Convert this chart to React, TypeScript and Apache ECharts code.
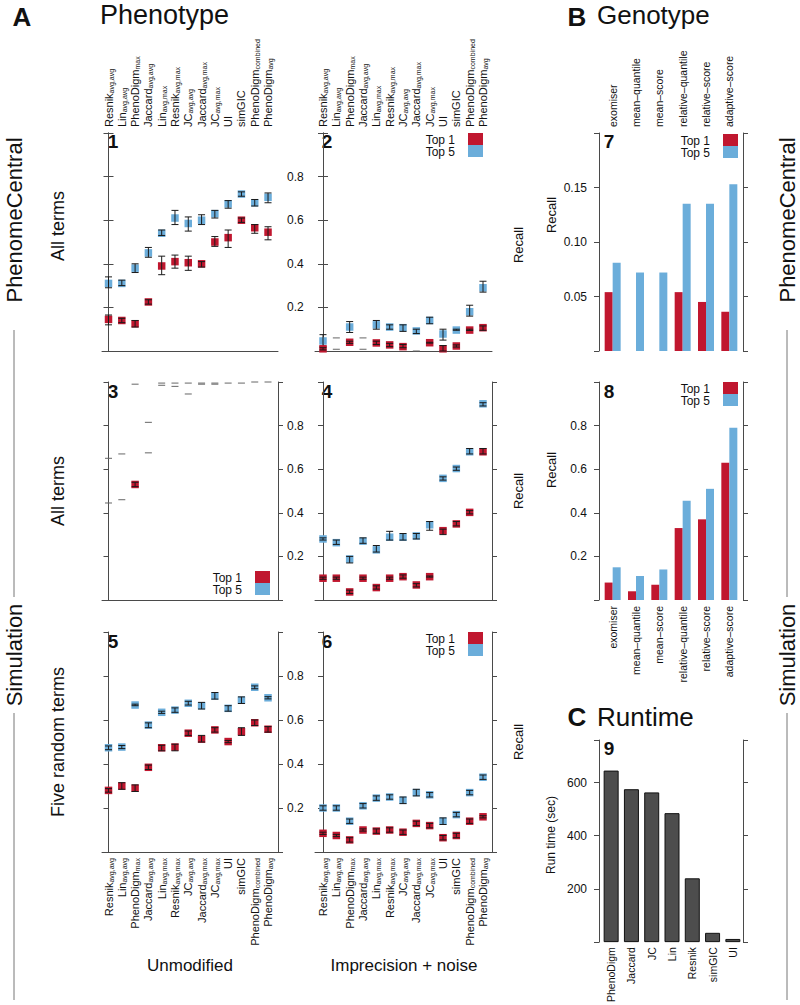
import React, { useEffect, useRef } from 'react';
import * as echarts from 'echarts';

const FONT = 'Liberation Sans, Arial, Helvetica, sans-serif';
const AX = '#4a4a4a';
const TXT = '#111';
const RED = '#C0172F';
const BLUE = '#6BADDA';
const DASH = '#666';

// ---- Phenotype categories (name + subscript) ----
const phenoNames = ['Resnik', 'Lin', 'PhenoDigm', 'Jaccard', 'Lin', 'Resnik', 'JC', 'Jaccard', 'JC', 'UI', 'simGIC', 'PhenoDigm', 'PhenoDigm'];
const phenoSubs = ['avg,avg', 'avg,avg', 'max', 'avg,avg', 'avg,max', 'avg,max', 'avg,avg', 'avg,max', 'avg,max', '', '', 'combined', 'avg'];

// Panel 1: PhenomeCentral, all terms, unmodified
const p1Top5 = [0.31, 0.31, 0.38, 0.45, 0.54, 0.61, 0.585, 0.6, 0.63, 0.675, 0.72, 0.68, 0.705];
const p1Top5Lo = [0.29, 0.3, 0.36, 0.43, 0.53, 0.58, 0.55, 0.58, 0.61, 0.655, 0.71, 0.665, 0.68];
const p1Top5Hi = [0.34, 0.325, 0.4, 0.475, 0.555, 0.645, 0.615, 0.625, 0.645, 0.69, 0.73, 0.695, 0.725];
const p1Top1 = [0.145, 0.14, 0.125, 0.225, 0.39, 0.41, 0.405, 0.4, 0.5, 0.52, 0.6, 0.565, 0.545];
const p1Top1Lo = [0.12, 0.13, 0.11, 0.215, 0.35, 0.38, 0.37, 0.385, 0.48, 0.475, 0.59, 0.54, 0.51];
const p1Top1Hi = [0.165, 0.15, 0.14, 0.235, 0.435, 0.44, 0.435, 0.41, 0.525, 0.555, 0.61, 0.58, 0.57];

// Panel 2: PhenomeCentral, all terms, imprecision + noise
const p2Top5 = [0.046, null, 0.11, null, 0.12, 0.11, 0.107, 0.092, 0.14, 0.078, 0.096, 0.18, 0.29];
const p2Top5Lo = [0.02, 0.06, 0.085, 0.06, 0.1, 0.1, 0.09, 0.08, 0.125, 0.05, 0.095, 0.16, 0.27];
const p2Top5Hi = [0.075, 0.06, 0.135, 0.06, 0.14, 0.12, 0.12, 0.1, 0.155, 0.1, 0.1, 0.21, 0.32];
const p2Top1 = [0.01, null, 0.04, null, 0.037, 0.028, 0.02, null, 0.038, 0.01, 0.023, 0.096, 0.107];
const p2Top1Lo = [0.005, 0.008, 0.035, 0.008, 0.03, 0.02, 0.015, 0.0, 0.036, 0.0, 0.018, 0.094, 0.095];
const p2Top1Hi = [0.015, 0.008, 0.045, 0.008, 0.045, 0.035, 0.03, 0.0, 0.04, 0.025, 0.028, 0.1, 0.115];

// Panel 3: Simulation, all terms, unmodified
const p3Top5 = [null, null, null, null, null, null, null, null, null, null, null, null, null];
const p3Top5Lo = [0.65, 0.67, 0.99, 0.815, 0.995, 0.995, 0.995, 0.995, 0.995, 0.995, 0.995, 1, 1];
const p3Top5Hi = [0.65, 0.67, 0.99, 0.815, 0.995, 0.995, 0.995, 0.995, 0.995, 0.995, 0.995, 1, 1];
const p3Top1 = [null, null, 0.53, null, null, null, null, null, null, null, null, null, null];
const p3Top1Lo = [0.445, 0.46, 0.52, 0.675, 0.985, 0.98, 0.945, 0.99, 0.99, null, null, null, null];
const p3Top1Hi = [0.445, 0.46, 0.54, 0.675, 0.985, 0.98, 0.945, 0.99, 0.99, null, null, null, null];

// Panel 4: Simulation, all terms, imprecision + noise
const p4Top5 = [0.28, 0.263, 0.188, 0.27, 0.23, 0.288, 0.288, 0.294, 0.345, 0.558, 0.603, 0.68, 0.9];
const p4Top5Lo = [0.275, 0.255, 0.17, 0.26, 0.22, 0.275, 0.275, 0.28, 0.32, 0.55, 0.595, 0.67, 0.89];
const p4Top5Hi = [0.285, 0.275, 0.2, 0.285, 0.25, 0.315, 0.305, 0.305, 0.36, 0.565, 0.61, 0.695, 0.905];
const p4Top1 = [0.1, 0.1, 0.037, 0.1, 0.057, 0.1, 0.107, 0.069, 0.107, 0.318, 0.349, 0.402, 0.68];
const p4Top1Lo = [0.095, 0.095, 0.03, 0.095, 0.05, 0.095, 0.1, 0.06, 0.105, 0.3, 0.34, 0.395, 0.67];
const p4Top1Hi = [0.105, 0.105, 0.045, 0.105, 0.065, 0.105, 0.115, 0.075, 0.11, 0.325, 0.36, 0.41, 0.695];

// Panel 5: Simulation, five random terms, unmodified
const p5Top5 = [0.474, 0.477, 0.668, 0.577, 0.635, 0.645, 0.676, 0.665, 0.709, 0.653, 0.69, 0.749, 0.701];
const p5Top5Lo = [0.465, 0.47, 0.665, 0.565, 0.63, 0.635, 0.668, 0.65, 0.695, 0.64, 0.675, 0.742, 0.696];
const p5Top5Hi = [0.482, 0.484, 0.672, 0.587, 0.64, 0.655, 0.685, 0.68, 0.725, 0.665, 0.705, 0.755, 0.706];
const p5Top1 = [0.28, 0.3, 0.29, 0.385, 0.474, 0.477, 0.54, 0.513, 0.555, 0.502, 0.547, 0.588, 0.558];
const p5Top1Lo = [0.272, 0.285, 0.275, 0.375, 0.46, 0.46, 0.53, 0.5, 0.545, 0.497, 0.53, 0.575, 0.545];
const p5Top1Hi = [0.288, 0.315, 0.305, 0.395, 0.485, 0.49, 0.55, 0.53, 0.565, 0.507, 0.565, 0.6, 0.57];

// Panel 6: Simulation, five random terms, imprecision + noise
const p6Top5 = [0.2, 0.2, 0.14, 0.21, 0.245, 0.25, 0.235, 0.27, 0.26, 0.14, 0.17, 0.27, 0.34];
const p6Top5Lo = [0.19, 0.19, 0.13, 0.2, 0.235, 0.24, 0.22, 0.255, 0.25, 0.125, 0.16, 0.26, 0.33];
const p6Top5Hi = [0.21, 0.21, 0.15, 0.22, 0.255, 0.26, 0.25, 0.285, 0.27, 0.155, 0.18, 0.28, 0.35];
const p6Top1 = [0.085, 0.075, 0.055, 0.1, 0.095, 0.1, 0.09, 0.13, 0.12, 0.065, 0.075, 0.14, 0.16];
const p6Top1Lo = [0.08, 0.07, 0.045, 0.095, 0.085, 0.09, 0.08, 0.12, 0.11, 0.055, 0.065, 0.13, 0.155];
const p6Top1Hi = [0.09, 0.08, 0.065, 0.105, 0.105, 0.11, 0.1, 0.14, 0.13, 0.075, 0.085, 0.15, 0.165];

// ---- Genotype ----
const genoCats = ['exomiser', 'mean\u2013quantile', 'mean\u2013score', 'relative\u2013quantile', 'relative\u2013score', 'adaptive\u2013score'];
const p7Top1 = [0.054, 0, 0, 0.054, 0.045, 0.036];
const p7Top5 = [0.081, 0.072, 0.072, 0.135, 0.135, 0.153];
const p8Top1 = [0.08, 0.04, 0.07, 0.33, 0.37, 0.63];
const p8Top5 = [0.15, 0.11, 0.14, 0.455, 0.51, 0.79];

// ---- Runtime ----
const runCats = ['PhenoDigm', 'Jaccard', 'JC', 'Lin', 'Resnik', 'simGIC', 'UI'];
const runTimes = [645, 575, 563, 485, 240, 35, 12];
const runTicks = [0, 200, 400, 600, 760];
const runLabels = [200, 400, 600];

const phenoPanels = [
  { grid: { left: 102, top: 133, width: 176, height: 218 }, min: -0.49, max: 12.75, d: [p1Top5, p1Top5Lo, p1Top5Hi, p1Top1, p1Top1Lo, p1Top1Hi] },
  { grid: { left: 315, top: 133, width: 177, height: 218 }, min: -0.6, max: 12.675, d: [p2Top5, p2Top5Lo, p2Top5Hi, p2Top1, p2Top1Lo, p2Top1Hi] },
  { grid: { left: 102, top: 382, width: 176, height: 218 }, min: -0.49, max: 12.75, d: [p3Top5, p3Top5Lo, p3Top5Hi, p3Top1, p3Top1Lo, p3Top1Hi] },
  { grid: { left: 315, top: 382, width: 177, height: 218 }, min: -0.6, max: 12.675, d: [p4Top5, p4Top5Lo, p4Top5Hi, p4Top1, p4Top1Lo, p4Top1Hi] },
  { grid: { left: 102, top: 632, width: 176, height: 220 }, min: -0.49, max: 12.75, d: [p5Top5, p5Top5Lo, p5Top5Hi, p5Top1, p5Top1Lo, p5Top1Hi] },
  { grid: { left: 315, top: 632, width: 177, height: 220 }, min: -0.6, max: 12.675, d: [p6Top5, p6Top5Lo, p6Top5Hi, p6Top1, p6Top1Lo, p6Top1Hi] },
];

const idx = phenoNames.map((_, i) => i);
const phenoRich = {
  m: { fontSize: 11, color: TXT, fontFamily: FONT, lineHeight: 12, verticalAlign: 'middle' },
  s: { fontSize: 7, color: TXT, fontFamily: FONT, lineHeight: 12, verticalAlign: 'middle', padding: [5, 0, 0, 0] },
};
const phenoFmt = (v: number) => {
  const i = Math.round(v);
  return `{m|${phenoNames[i]}}` + (phenoSubs[i] ? `{s|${phenoSubs[i]}}` : '');
};

function errSeries(xi: number, yi: number, vals: (number | null)[], lo: (number | null)[], hi: (number | null)[], color: string, dashColor: string) {
  const data = vals.map((v, i) => [i, v == null ? 0 : v, lo[i] == null ? 0 : lo[i], hi[i] == null ? 0 : hi[i], v == null ? 0 : 1, lo[i] == null ? 0 : 1]);
  return {
    type: 'custom',
    xAxisIndex: xi,
    yAxisIndex: yi,
    silent: true,
    clip: false,
    data,
    renderItem: (_p: any, api: any) => {
      const i = api.value(0), v = api.value(1), l = api.value(2), h = api.value(3);
      const hasV = api.value(4) === 1, hasE = api.value(5) === 1;
      const ch: any[] = [];
      const SQ = 7.5, CAP = 3.5;
      if (hasV) {
        const p = api.coord([i, v]);
        ch.push({ type: 'rect', shape: { x: p[0] - SQ / 2, y: p[1] - SQ / 2, width: SQ, height: SQ }, style: { fill: color } });
      }
      if (hasE) {
        const a = api.coord([i, l]), b = api.coord([i, h]);
        const x = a[0];
        const stroke = hasV ? '#1a1a1a' : dashColor;
        const ls = { stroke, lineWidth: 1 };
        if (Math.abs(a[1] - b[1]) > 0.6) {
          ch.push({ type: 'line', shape: { x1: x, y1: a[1], x2: x, y2: b[1] }, style: ls });
          ch.push({ type: 'line', shape: { x1: x - CAP, y1: b[1], x2: x + CAP, y2: b[1] }, style: ls });
        }
        ch.push({ type: 'line', shape: { x1: x - CAP, y1: a[1], x2: x + CAP, y2: a[1] }, style: ls });
      }
      return { type: 'group', children: ch };
    },
  };
}

const txt = (text: string, x: number, y: number, size: number, opts: any = {}) => ({
  type: 'text',
  x, y,
  rotation: opts.rot ? Math.PI / 2 : 0,
  style: {
    text, fontSize: size, fontFamily: FONT, fill: TXT,
    fontWeight: opts.bold ? 'bold' : 'normal',
    align: opts.align || 'center', verticalAlign: 'middle',
  },
  silent: true,
});

const legendG = (xr: number, yt: number) => [
  txt('Top 1', xr - 13, yt + 7, 12, { align: 'right' }),
  txt('Top 5', xr - 13, yt + 19, 12, { align: 'right' }),
  { type: 'rect', shape: { x: xr, y: yt, width: 15, height: 12 }, style: { fill: RED }, silent: true },
  { type: 'rect', shape: { x: xr, y: yt + 12, width: 15, height: 12 }, style: { fill: BLUE }, silent: true },
];

const vline = (x: number, y1: number, y2: number) => ({ type: 'line', shape: { x1: x, y1, x2: x, y2 }, style: { stroke: '#777', lineWidth: 1 }, silent: true });

export default function App() {
  const ref = useRef<HTMLDivElement>(null);
  useEffect(() => {
    if (!ref.current) return;
    const chart = echarts.init(ref.current, undefined, { renderer: 'svg' });
    const grids: any[] = [];
    const xAxes: any[] = [];
    const yAxes: any[] = [];
    const series: any[] = [];

    const yBase = (gi: number, pos: string, showLabels: boolean) => ({
      type: 'value', gridIndex: gi, position: pos, min: 0, max: 1, interval: 0.2,
      axisLine: { show: true, lineStyle: { color: AX, width: 1 } },
      axisTick: { show: true, length: 5, inside: false, lineStyle: { color: AX } },
      splitLine: { show: false },
      axisLabel: {
        show: showLabels, margin: 9, fontSize: 12, fontFamily: FONT, color: TXT,
        formatter: (v: number) => (v > 0.01 && v < 0.99 ? v.toFixed(1) : ''),
      },
    });

    phenoPanels.forEach((p, k) => {
      const row = Math.floor(k / 2), col = k % 2;
      const gi = grids.length;
      grids.push({ ...p.grid, containLabel: false });
      const xb = xAxes.length;
      xAxes.push({
        type: 'value', gridIndex: gi, position: 'bottom', min: p.min, max: p.max,
        axisLine: { show: true, onZero: false, lineStyle: { color: AX } },
        axisTick: { show: false }, splitLine: { show: false },
        axisLabel: row === 2
          ? { show: true, customValues: idx, rotate: 90, margin: 6, formatter: phenoFmt, rich: phenoRich }
          : { show: false },
      });
      if (row === 0) {
        xAxes.push({
          type: 'value', gridIndex: gi, position: 'top', min: p.min, max: p.max,
          axisLine: { show: false }, axisTick: { show: false }, splitLine: { show: false },
          axisLabel: { show: true, customValues: idx, rotate: 90, margin: 6, formatter: phenoFmt, rich: phenoRich },
        });
      }
      const yl = yAxes.length;
      yAxes.push(yBase(gi, 'left', false));
      yAxes.push(yBase(gi, 'right', col === 0));
      const [t5, t5l, t5h, t1, t1l, t1h] = p.d as any;
      series.push(errSeries(xb, yl, t5, t5l, t5h, BLUE, DASH));
      series.push(errSeries(xb, yl, t1, t1l, t1h, RED, DASH));
    });

    const genoPanel = (top: number, max: number, interval: number, top1: number[], top5: number[], labelPos: string, fmt: (v: number) => string) => {
      const gi = grids.length;
      grids.push({ left: 601, top, width: 140, height: 218, containLabel: false });
      const xi = xAxes.length;
      xAxes.push({
        type: 'category', gridIndex: gi, position: labelPos, data: genoCats,
        axisLine: { show: false }, axisTick: { show: false }, splitLine: { show: false },
        axisLabel: { show: true, rotate: 90, margin: 6, fontSize: 10.5, fontFamily: FONT, color: TXT, interval: 0 },
      });
      const yi = yAxes.length;
      const yb = (pos: string, lab: boolean) => ({
        type: 'value', gridIndex: gi, position: pos, min: 0, max, interval, offset: 2,
        axisLine: { show: true, lineStyle: { color: AX } },
        axisTick: { show: true, length: 5, lineStyle: { color: AX } },
        splitLine: { show: false },
        axisLabel: { show: lab, margin: 12, fontSize: 12, fontFamily: FONT, color: TXT, formatter: fmt },
      });
      yAxes.push(yb('left', true));
      yAxes.push(yb('right', false));
      series.push({ type: 'bar', xAxisIndex: xi, yAxisIndex: yi, data: top1, barWidth: 8, barGap: '0%', itemStyle: { color: RED }, silent: true });
      series.push({ type: 'bar', xAxisIndex: xi, yAxisIndex: yi, data: top5, barWidth: 8, barGap: '0%', itemStyle: { color: BLUE }, silent: true });
    };
    genoPanel(133, 0.2, 0.05, p7Top1, p7Top5, 'top', (v) => (v > 0.001 && v < 0.199 ? v.toFixed(2) : ''));
    genoPanel(382, 1, 0.2, p8Top1, p8Top5, 'bottom', (v) => (v > 0.01 && v < 0.99 ? v.toFixed(1) : ''));

    {
      const gi = grids.length;
      grids.push({ left: 601, top: 740, width: 142, height: 235, containLabel: false });
      const xi = xAxes.length;
      xAxes.push({
        type: 'category', gridIndex: gi, position: 'bottom', data: runCats,
        axisLine: { show: false }, axisTick: { show: false }, splitLine: { show: false },
        axisLabel: { show: true, rotate: 90, margin: 5, fontSize: 10.5, fontFamily: FONT, color: TXT, interval: 0 },
      });
      const yi = yAxes.length;
      const yb = (pos: string, lab: boolean) => ({
        type: 'value', gridIndex: gi, position: pos, min: 0, max: 760, offset: pos === 'left' ? 2 : 0,
        axisLine: { show: true, lineStyle: { color: AX } },
        axisTick: { show: true, length: 5, lineStyle: { color: AX }, customValues: runTicks },
        splitLine: { show: false },
        axisLabel: { show: lab, margin: 12, fontSize: 12, fontFamily: FONT, color: TXT, customValues: runLabels },
      });
      yAxes.push(yb('left', true));
      yAxes.push(yb('right', false));
      series.push({ type: 'bar', xAxisIndex: xi, yAxisIndex: yi, data: runTimes, barWidth: 15, itemStyle: { color: '#4D4D4D', borderColor: '#111', borderWidth: 1 }, silent: true });
    }

    const graphics: any[] = [
      txt('A', 22, 17, 26, { bold: true }),
      txt('Phenotype', 100, 15, 27, { align: 'left' }),
      txt('B', 577, 17, 26, { bold: true }),
      txt('Genotype', 597, 15, 26, { align: 'left' }),
      txt('C', 577, 717, 26, { bold: true }),
      txt('Runtime', 597, 717, 26, { align: 'left' }),
      txt('1', 113, 141, 19, { bold: true }),
      txt('2', 327, 141, 19, { bold: true }),
      txt('3', 113, 391, 19, { bold: true }),
      txt('4', 327, 391, 19, { bold: true }),
      txt('5', 113, 641, 19, { bold: true }),
      txt('6', 327, 641, 19, { bold: true }),
      txt('7', 609, 141, 19, { bold: true }),
      txt('8', 609, 391, 19, { bold: true }),
      txt('9', 609, 748, 19, { bold: true }),
      txt('PhenomeCentral', 14, 220, 22, { rot: true }),
      txt('Simulation', 14, 655, 22, { rot: true }),
      vline(14, 330, 597), vline(14, 713, 1000),
      txt('PhenomeCentral', 787, 220, 22, { rot: true }),
      txt('Simulation', 787, 655, 22, { rot: true }),
      vline(787, 330, 597), vline(787, 713, 1000),
      txt('All terms', 58, 226, 18, { rot: true }),
      txt('All terms', 58, 491, 18, { rot: true }),
      txt('Five random terms', 58, 742, 18, { rot: true }),
      txt('Recall', 518, 245, 13, { rot: true }),
      txt('Recall', 518, 491, 13, { rot: true }),
      txt('Recall', 518, 742, 13, { rot: true }),
      txt('Recall', 551, 215, 13, { rot: true }),
      txt('Recall', 551, 470, 13, { rot: true }),
      txt('Run time (sec)', 551, 835, 12, { rot: true }),
      txt('Unmodified', 190, 965, 17),
      txt('Imprecision + noise', 404, 965, 17),
      ...legendG(468, 133),
      ...legendG(255, 571),
      ...legendG(468, 632),
      ...legendG(723, 134),
      ...legendG(723, 382),
    ];

    chart.setOption({
      animation: false,
      backgroundColor: '#fff',
      textStyle: { fontFamily: FONT },
      grid: grids,
      xAxis: xAxes,
      yAxis: yAxes,
      series,
      graphic: graphics,
    });
    return () => chart.dispose();
  }, []);
  return <div ref={ref} style={{ position: 'absolute', left: 0, top: 0, width: 800, height: 1005 }} />;
}
